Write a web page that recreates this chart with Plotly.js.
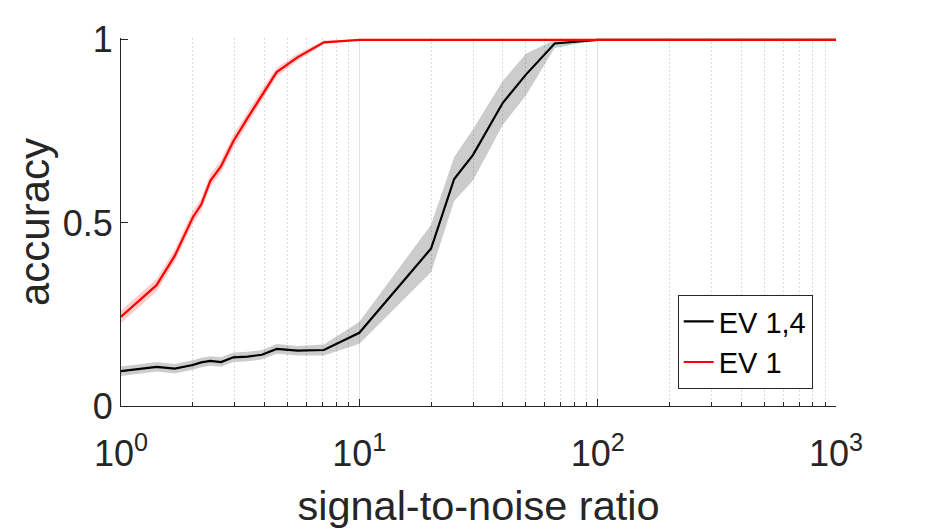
<!DOCTYPE html>
<html>
<head>
<meta charset="utf-8">
<script src="https://cdn.plot.ly/plotly-3.0.1.min.js"></script>
<style>
  html, body { margin: 0; padding: 0; background: #fff; }
  #myDiv { width: 925px; height: 529px; }
</style>
</head>
<body>
<div id="myDiv"></div>
<script>
// signal-to-noise ratio sample points
var snr = [1, 1.41, 1.68, 2, 2.17, 2.37, 2.63, 2.96, 3.4, 3.9, 4.5, 5.5, 7.1, 10,
           20, 25, 30, 40, 50, 66, 100, 200, 500, 1000];

// EV 1,4 (black): mean accuracy and half-width of the shaded band
var ev14Mean = [0.095, 0.107, 0.102, 0.112, 0.119, 0.123, 0.120, 0.133, 0.135, 0.140, 0.156, 0.151, 0.153, 0.200,
                0.430, 0.620, 0.686, 0.828, 0.905, 0.990, 1, 1, 1, 1];
var ev14Err  = [0.013, 0.013, 0.013, 0.013, 0.013, 0.013, 0.013, 0.013, 0.013, 0.013, 0.013, 0.013, 0.015, 0.030,
                0.065, 0.060, 0.070, 0.060, 0.057, 0.012, 0, 0, 0, 0];

// EV 1 (red)
var ev1Mean = [0.244, 0.330, 0.410, 0.515, 0.550, 0.615, 0.655, 0.723, 0.787, 0.850, 0.912, 0.952, 0.993, 1,
               1, 1, 1, 1, 1, 1, 1, 1, 1, 1];
var ev1Err  = [0.017, 0.017, 0.017, 0.017, 0.017, 0.017, 0.017, 0.017, 0.016, 0.015, 0.012, 0.010, 0.005, 0,
               0, 0, 0, 0, 0, 0, 0, 0, 0, 0];

var majorTicks = [1, 10, 100, 1000];
var majorLabels = ['10<sup>0</sup>', '10<sup>1</sup>', '10<sup>2</sup>', '10<sup>3</sup>'];

var minorTicks = [];
for (var d = 1; d <= 100; d *= 10) {
  for (var k = 2; k <= 9; k++) minorTicks.push(k * d);
}

var FONT = 'Liberation Sans, Arial, Helvetica, sans-serif';
var AX = '#262626';

function band(mean, err, color) {
  var up = mean.map(function (m, i) { return Math.min(1, m + err[i]); });
  var lo = mean.map(function (m, i) { return m - err[i]; });
  return {
    x: snr.concat(snr.slice().reverse()),
    y: up.concat(lo.reverse()),
    type: 'scatter',
    mode: 'lines',
    fill: 'toself',
    fillcolor: color,
    line: { width: 0, color: color },
    hoverinfo: 'skip',
    showlegend: false
  };
}

var data = [
  band(ev14Mean, ev14Err, 'rgba(0,0,0,0.2)'),
  band(ev1Mean, ev1Err, 'rgba(255,0,0,0.2)'),
  { x: snr, y: ev14Mean, type: 'scatter', mode: 'lines', name: 'EV 1,4',
    line: { color: '#000000', width: 2.2 } },
  { x: snr, y: ev1Mean, type: 'scatter', mode: 'lines', name: 'EV 1',
    line: { color: '#ff0000', width: 2.2 } }
];

var layout = {
  width: 925,
  height: 529,
  margin: { l: 121, r: 89, t: 38, b: 123 },
  paper_bgcolor: '#ffffff',
  plot_bgcolor: '#ffffff',
  showlegend: true,
  font: { family: FONT, color: AX },
  xaxis: {
    type: 'log',
    range: [0, 3],
    tickmode: 'array',
    tickvals: majorTicks,
    ticktext: majorLabels,
    ticks: 'inside',
    ticklen: 7,
    tickcolor: AX,
    ticklabelstandoff: 16,
    tickfont: { family: FONT, size: 36, color: AX },
    showline: true,
    linecolor: AX,
    linewidth: 1,
    showgrid: true,
    gridcolor: '#e2e2e2',
    gridwidth: 1,
    zeroline: false,
    minor: {
      tickmode: 'array',
      tickvals: minorTicks,
      ticks: 'inside',
      ticklen: 4,
      tickcolor: AX,
      showgrid: true,
      gridcolor: '#dcdcdc',
      griddash: '2px,2px',
      gridwidth: 1
    },
    title: { text: 'signal-to-noise ratio', font: { family: FONT, size: 41.5, color: AX }, standoff: 17 }
  },
  yaxis: {
    range: [0, 1.005],
    tickmode: 'linear',
    tick0: 0,
    dtick: 0.5,
    ticks: 'inside',
    ticklen: 7,
    tickcolor: AX,
    tickfont: { family: FONT, size: 36, color: AX },
    showline: true,
    linecolor: AX,
    linewidth: 1,
    showgrid: false,
    zeroline: false,
    title: { text: 'accuracy', font: { family: FONT, size: 42, color: AX }, standoff: 0 }
  },
  legend: {
    x: 0.9674,
    xanchor: 'right',
    y: 0.3017,
    yanchor: 'top',
    bgcolor: '#ffffff',
    bordercolor: AX,
    borderwidth: 1,
    font: { family: FONT, size: 29, color: '#000000' },
    tracegroupgap: 0
  }
};

Plotly.newPlot('myDiv', data, layout, { displayModeBar: false, staticPlot: true });
</script>
</body>
</html>
